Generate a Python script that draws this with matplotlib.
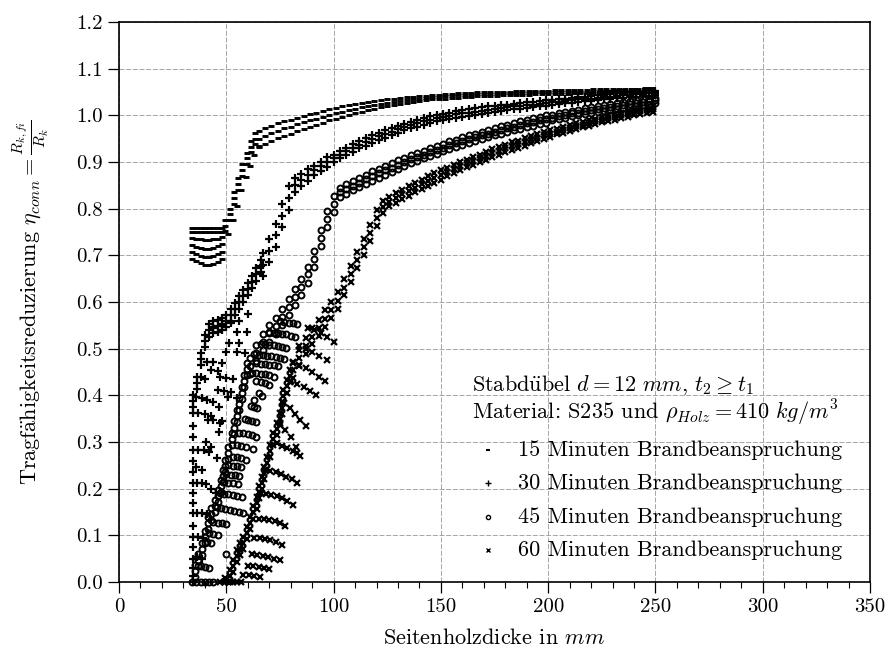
import matplotlib
matplotlib.use('Agg')
import matplotlib.pyplot as plt
from matplotlib.ticker import MultipleLocator, FormatStrFormatter

plt.rcParams['font.family'] = 'serif'
plt.rcParams['font.serif'] = ['cmr10']
plt.rcParams['mathtext.fontset'] = 'cm'
plt.rcParams['axes.unicode_minus'] = False

# ---------------- 15 Minuten ----------------
# group at the smallest side thickness
x15_low = [34, 36, 38, 40, 42, 44, 46, 48]
y15_low = [
    [0.758, 0.758, 0.758, 0.758, 0.758, 0.758, 0.758, 0.758],
    [0.750, 0.750, 0.750, 0.750, 0.750, 0.750, 0.750, 0.750],
    [0.738, 0.736, 0.734, 0.733, 0.733, 0.734, 0.736, 0.740],
    [0.722, 0.718, 0.716, 0.714, 0.714, 0.716, 0.719, 0.724],
    [0.708, 0.703, 0.699, 0.697, 0.697, 0.699, 0.703, 0.708],
    [0.692, 0.687, 0.683, 0.680, 0.680, 0.682, 0.686, 0.692],
]
# steep part
x15_rise = [49.5, 51.5, 53.5, 55.5, 57.5, 59.5, 61.5, 63.5]
y15_rise = [
    [0.775, 0.800, 0.835, 0.865, 0.895, 0.920, 0.945, 0.962],
    [0.763, 0.788, 0.823, 0.853, 0.883, 0.908, 0.933, 0.950],
    [0.752, 0.776, 0.811, 0.841, 0.871, 0.896, 0.921, 0.938],
]
x15_single = [51, 53, 55, 57, 59, 61, 63, 65]
y15_single = [0.745, 0.775, 0.805, 0.840, 0.868, 0.892, 0.915, 0.935]
# upper band
x15_band = list(range(65, 249, 3))
y15_band = [
    [0.967, 0.973, 0.978, 0.983, 0.987, 0.991, 0.995, 0.999, 1.002, 1.006,
     1.009, 1.013, 1.016, 1.019, 1.022, 1.024, 1.027, 1.029, 1.031, 1.033,
     1.034, 1.036, 1.037, 1.039, 1.040, 1.041, 1.042, 1.043, 1.044, 1.045,
     1.046, 1.047, 1.047, 1.048, 1.049, 1.049, 1.050, 1.050, 1.051, 1.051,
     1.052, 1.052, 1.052, 1.053, 1.053, 1.053, 1.054, 1.054, 1.054, 1.055,
     1.055, 1.055, 1.056, 1.056, 1.056, 1.056, 1.057, 1.057, 1.057, 1.057,
     1.058, 1.058],
    [0.950, 0.956, 0.962, 0.967, 0.972, 0.976, 0.981, 0.985, 0.989, 0.993,
     0.997, 1.001, 1.005, 1.008, 1.012, 1.014, 1.018, 1.020, 1.023, 1.025,
     1.027, 1.029, 1.031, 1.033, 1.035, 1.036, 1.038, 1.039, 1.040, 1.041,
     1.042, 1.043, 1.043, 1.044, 1.045, 1.045, 1.046, 1.046, 1.047, 1.047,
     1.048, 1.048, 1.048, 1.049, 1.049, 1.049, 1.050, 1.050, 1.050, 1.051,
     1.051, 1.051, 1.052, 1.052, 1.052, 1.052, 1.053, 1.053, 1.053, 1.053,
     1.054, 1.054],
    [0.932, 0.939, 0.945, 0.951, 0.956, 0.961, 0.966, 0.971, 0.975, 0.980,
     0.984, 0.989, 0.993, 0.997, 1.001, 1.004, 1.008, 1.011, 1.014, 1.017,
     1.019, 1.022, 1.024, 1.027, 1.029, 1.031, 1.033, 1.034, 1.035, 1.036,
     1.037, 1.038, 1.039, 1.040, 1.041, 1.041, 1.042, 1.042, 1.043, 1.043,
     1.044, 1.044, 1.044, 1.045, 1.045, 1.045, 1.046, 1.046, 1.046, 1.047,
     1.047, 1.047, 1.048, 1.048, 1.048, 1.048, 1.049, 1.049, 1.049, 1.049,
     1.050, 1.050],
]

# ---------------- 30 Minuten ----------------
x30_col = [34.5] * 17
y30_col = [0.0, 0.012, 0.03, 0.05, 0.075, 0.097, 0.12, 0.148, 0.17, 0.19,
           0.212, 0.235, 0.26, 0.283, 0.31, 0.335, 0.362]
x30_step = [34.5, 36.5, 38, 40, 42, 44, 46, 48, 50, 52, 54, 56, 58, 60, 62, 64, 66]
y30_step = [
    [0.400, 0.440, 0.490, 0.530, 0.552, 0.560, 0.562, 0.565, 0.572, 0.585,
     0.598, 0.612, 0.626, 0.640, 0.656, 0.672, 0.690],
    [0.387, 0.427, 0.477, 0.517, 0.539, 0.547, 0.549, 0.552, 0.559, 0.572,
     0.585, 0.599, 0.613, 0.627, 0.643, 0.659, 0.677],
    [0.374, 0.414, 0.464, 0.504, 0.526, 0.534, 0.536, 0.539, 0.546, 0.559,
     0.572, 0.586, 0.600, 0.614, 0.630, 0.646, 0.664],
]
p30_scatter = [
    (36, .397), (38.5, .395), (41, .39), (44, .385), (46.5, .375),
    (37, .362), (40, .36), (43, .355), (47, .341),
    (46.4, .322), (40.6, .30), (43, .29),
    (37, .283), (39.5, .282), (42, .278), (45.7, .265),
    (36, .247), (38.5, .24),
    (36.5, .212), (38.5, .212), (40.5, .21), (43, .2), (45, .19),
    (36.5, .148), (38.5, .148), (41, .145),
    (37, .097), (39, .095), (36.5, .054), (38.5, .05),
    (54.8, .536), (59.5, .536), (51.3, .512), (55.9, .512),
    (49.7, .493), (55, .493), (58.5, .49),
    (41, .471), (44, .471), (48, .47), (43, .454), (46, .452),
    (47, .44), (50, .438), (53, .435),
    (46, .411), (49, .41), (52, .408), (51, .396), (55, .394),
    (41.5, .347), (44, .347), (48, .345),
    (38, .44), (40, .435), (44, .545), (48, .55), (52, .555), (56, .56), (60, .575),
]
x30_band = list(range(67, 251, 3))
y30_band = [
    [0.705, 0.735, 0.768, 0.810, 0.848, 0.865, 0.875, 0.884, 0.892, 0.901,
     0.910, 0.916, 0.924, 0.931, 0.938, 0.945, 0.951, 0.957, 0.963, 0.968,
     0.973, 0.977, 0.982, 0.986, 0.990, 0.994, 0.998, 1.001, 1.003, 1.006,
     1.009, 1.011, 1.013, 1.015, 1.017, 1.019, 1.021, 1.023, 1.023, 1.025,
     1.026, 1.028, 1.029, 1.031, 1.032, 1.033, 1.034, 1.036, 1.037, 1.039,
     1.040, 1.041, 1.043, 1.044, 1.045, 1.047, 1.048, 1.049, 1.050, 1.051,
     1.052, 1.053],
    [0.680, 0.710, 0.743, 0.785, 0.823, 0.850, 0.862, 0.872, 0.882, 0.891,
     0.900, 0.908, 0.916, 0.923, 0.930, 0.937, 0.943, 0.949, 0.955, 0.960,
     0.965, 0.970, 0.975, 0.979, 0.983, 0.987, 0.991, 0.994, 0.996, 0.999,
     1.002, 1.004, 1.006, 1.008, 1.010, 1.012, 1.014, 1.016, 1.017, 1.019,
     1.020, 1.022, 1.023, 1.025, 1.026, 1.028, 1.029, 1.031, 1.032, 1.034,
     1.035, 1.036, 1.038, 1.039, 1.040, 1.042, 1.043, 1.044, 1.045, 1.046,
     1.047, 1.048],
    [0.655, 0.685, 0.718, 0.760, 0.798, 0.835, 0.849, 0.860, 0.872, 0.881,
     0.890, 0.900, 0.908, 0.915, 0.922, 0.929, 0.935, 0.941, 0.947, 0.952,
     0.957, 0.963, 0.968, 0.972, 0.976, 0.980, 0.984, 0.987, 0.989, 0.992,
     0.995, 0.997, 0.999, 1.001, 1.003, 1.005, 1.007, 1.009, 1.011, 1.013,
     1.014, 1.016, 1.017, 1.019, 1.020, 1.023, 1.024, 1.026, 1.027, 1.029,
     1.030, 1.031, 1.033, 1.034, 1.035, 1.037, 1.038, 1.039, 1.040, 1.041,
     1.042, 1.043],
]

# ---------------- 45 Minuten ----------------
x45_step = [35.4, 37, 38.5, 40, 41.5, 43, 44.7, 46, 47.3, 48.5,
            49.6, 51, 52.5, 53.7, 54.9, 56, 57.2, 58.4, 59.5]
y45_step = [
    [0.036, 0.060, 0.083, 0.110, 0.140, 0.158, 0.176, 0.198, 0.219, 0.240,
     0.261, 0.290, 0.319, 0.344, 0.369, 0.394, 0.418, 0.444, 0.469],
    [0.023, 0.047, 0.070, 0.097, 0.127, 0.145, 0.163, 0.185, 0.206, 0.227,
     0.248, 0.277, 0.306, 0.331, 0.356, 0.381, 0.405, 0.431, 0.456],
    [0.010, 0.034, 0.057, 0.084, 0.114, 0.132, 0.150, 0.172, 0.193, 0.214,
     0.235, 0.264, 0.293, 0.318, 0.343, 0.368, 0.392, 0.418, 0.443],
]
x45_zero = [34, 36, 38, 40, 42, 44]
y45_zero = [0.0, 0.0, 0.0, 0.0, 0.0, 0.0]
p45_scatter = [
    (75, .56), (77, .558), (79, .556), (81, .555), (83, .553),
    (70, .535), (72, .534), (74, .533), (76, .532), (78, .531), (80, .528), (82, .525),
    (66, .51), (68, .509), (70, .508), (72, .507), (74, .506), (76, .504), (78, .502),
    (63, .488), (65, .487), (67, .486), (69, .485), (71, .484), (73, .482), (75, .48), (77, .478),
    (64, .469), (66, .468), (68, .467), (70, .466), (72, .464), (74, .462),
    (62, .448), (64, .447), (66, .446), (68, .445), (70, .443), (72, .44),
    (64, .43), (66, .428), (68, .426), (70, .423),
    (65, .405), (66.5, .398), (63, .39),
    (61.5, .378), (63, .375), (64.5, .372),
    (58.5, .35), (60, .348), (62, .346), (64, .342),
    (56, .32), (58, .319), (60, .318), (62, .315), (64, .31),
    (55, .293), (57, .292), (59, .29), (62.6, .285),
    (53, .268), (55, .267), (57, .265), (59, .262),
    (51, .25), (53, .249), (55, .248), (57, .246),
    (50, .232), (52, .23), (54, .229), (56, .227),
    (49, .214), (51, .213), (53, .212), (55.5, .21),
    (47, .19), (49, .189), (51, .188), (53, .187), (55, .185), (57.5, .183),
    (45.5, .16), (47.5, .158), (49.5, .156), (51.5, .154), (53.5, .152), (56, .15), (58, .148),
    (44, .128), (46, .127), (48, .126), (50, .124),
    (42, .104), (44, .102), (46, .1), (41, .085), (43, .083),
    (50, .06), (38, .035), (40, .032), (42, .03),
]
x45_band = list(range(61, 251, 3))
y45_band = [
    [0.480, 0.508, 0.532, 0.550, 0.566, 0.585, 0.607, 0.628, 0.650, 0.676,
     0.710, 0.754, 0.795, 0.828, 0.845, 0.852, 0.859, 0.866, 0.873, 0.880,
     0.886, 0.892, 0.898, 0.904, 0.908, 0.914, 0.919, 0.924, 0.929, 0.934,
     0.939, 0.944, 0.948, 0.953, 0.957, 0.961, 0.965, 0.969, 0.973, 0.977,
     0.980, 0.984, 0.987, 0.991, 0.994, 0.997, 1.000, 1.001, 1.004, 1.007,
     1.010, 1.012, 1.015, 1.017, 1.020, 1.022, 1.024, 1.026, 1.028, 1.030,
     1.032, 1.034, 1.036, 1.038],
    [0.463, 0.491, 0.515, 0.533, 0.549, 0.568, 0.590, 0.611, 0.633, 0.659,
     0.693, 0.737, 0.778, 0.811, 0.835, 0.842, 0.849, 0.856, 0.863, 0.870,
     0.876, 0.882, 0.888, 0.894, 0.900, 0.906, 0.911, 0.916, 0.921, 0.926,
     0.931, 0.936, 0.940, 0.945, 0.949, 0.953, 0.957, 0.961, 0.965, 0.969,
     0.972, 0.976, 0.979, 0.983, 0.986, 0.989, 0.992, 0.995, 0.998, 1.001,
     1.004, 1.006, 1.009, 1.011, 1.014, 1.016, 1.018, 1.020, 1.022, 1.024,
     1.026, 1.028, 1.030, 1.032],
    [0.445, 0.473, 0.497, 0.515, 0.531, 0.550, 0.572, 0.593, 0.615, 0.641,
     0.675, 0.719, 0.760, 0.793, 0.825, 0.832, 0.839, 0.846, 0.853, 0.860,
     0.866, 0.872, 0.878, 0.884, 0.892, 0.898, 0.903, 0.908, 0.913, 0.918,
     0.923, 0.928, 0.932, 0.937, 0.941, 0.945, 0.949, 0.953, 0.957, 0.961,
     0.964, 0.968, 0.971, 0.975, 0.978, 0.981, 0.984, 0.989, 0.992, 0.995,
     0.998, 1.000, 1.003, 1.005, 1.008, 1.010, 1.012, 1.014, 1.016, 1.018,
     1.020, 1.022, 1.024, 1.026],
]

# ---------------- 60 Minuten ----------------
x60_step = [49.5, 51.7, 53.2, 54.8, 56.4, 58, 59.5, 61, 62.6, 64.2, 65.3,
            66.5, 67.7, 68.8, 70.3, 71.8, 73.4, 75, 75.8, 76.5, 78.1, 79.7]
y60_step = [
    [0.008, 0.026, 0.048, 0.069, 0.083, 0.097, 0.118, 0.140, 0.162, 0.183, 0.205,
     0.226, 0.247, 0.268, 0.293, 0.319, 0.340, 0.362, 0.386, 0.411, 0.432, 0.454],
    [0.000, 0.013, 0.035, 0.056, 0.070, 0.084, 0.105, 0.127, 0.149, 0.170, 0.192,
     0.213, 0.234, 0.255, 0.280, 0.306, 0.327, 0.349, 0.373, 0.398, 0.419, 0.441],
    [0.000, 0.000, 0.022, 0.043, 0.057, 0.071, 0.092, 0.114, 0.136, 0.157, 0.179,
     0.200, 0.221, 0.242, 0.267, 0.293, 0.314, 0.336, 0.360, 0.385, 0.406, 0.428],
]
x60_zero = [47, 49, 51, 53, 55, 57]
y60_zero = [0.0, 0.0, 0.0, 0.0, 0.0, 0.0]
p60_scatter = [
    (73.5, .297), (76, .292), (78.5, .287), (81, .281), (83, .276),
    (68, .24), (70.5, .238), (73, .235), (75.5, .231), (78, .226), (80.5, .22), (83, .212),
    (66, .19), (68.5, .189), (71, .187), (73.5, .184), (76, .18), (78.5, .174), (81, .165),
    (65, .135), (67.5, .134), (70, .133), (72.5, .13), (75, .126), (77.5, .12),
    (63, .095), (65.5, .094), (68, .092), (70.5, .09), (73, .086), (76, .08),
    (62, .06), (64.5, .058), (67, .056), (69.5, .053), (72, .05), (75, .047),
    (60, .035), (62.5, .034), (65, .032), (67.5, .03), (70, .027),
    (58, .015), (60.5, .014), (63, .012), (65.5, .01),
    (75, .34), (77.5, .325), (80, .31), (82.5, .29), (84.5, .27),
    (77, .383), (79.5, .372), (82, .36), (84.5, .348), (87, .335),
    (80, .43), (83, .425), (86, .418), (89, .41), (92, .4),
    (81, .47), (84, .465), (87, .458), (90, .45), (93, .44), (96, .43),
    (84, .505), (87, .5), (90, .493), (93, .485), (96.8, .476),
    (88, .545), (91, .54), (94, .533), (97, .525), (100, .515),
]
x60_band = list(range(81, 250, 3))
y60_band = [
    [0.472, 0.498, 0.523, 0.544, 0.562, 0.582, 0.601, 0.621, 0.649, 0.678,
     0.707, 0.736, 0.766, 0.798, 0.816, 0.825, 0.833, 0.841, 0.848, 0.855,
     0.862, 0.869, 0.876, 0.882, 0.887, 0.893, 0.899, 0.905, 0.910, 0.916,
     0.921, 0.927, 0.932, 0.937, 0.942, 0.946, 0.951, 0.956, 0.960, 0.965,
     0.969, 0.971, 0.975, 0.979, 0.983, 0.986, 0.990, 0.993, 0.997, 1.000,
     1.003, 1.006, 1.009, 1.012, 1.015, 1.017, 1.020],
    [0.454, 0.480, 0.505, 0.526, 0.544, 0.564, 0.583, 0.603, 0.631, 0.660,
     0.689, 0.718, 0.748, 0.780, 0.803, 0.815, 0.823, 0.831, 0.838, 0.845,
     0.852, 0.859, 0.866, 0.872, 0.879, 0.885, 0.891, 0.897, 0.902, 0.908,
     0.913, 0.919, 0.924, 0.929, 0.934, 0.938, 0.943, 0.948, 0.952, 0.957,
     0.961, 0.965, 0.969, 0.973, 0.977, 0.980, 0.984, 0.987, 0.991, 0.994,
     0.997, 1.000, 1.003, 1.006, 1.009, 1.011, 1.014],
    [0.437, 0.463, 0.488, 0.509, 0.527, 0.547, 0.566, 0.586, 0.614, 0.643,
     0.672, 0.701, 0.731, 0.763, 0.791, 0.805, 0.813, 0.821, 0.828, 0.835,
     0.842, 0.849, 0.856, 0.862, 0.871, 0.877, 0.883, 0.889, 0.894, 0.900,
     0.905, 0.911, 0.916, 0.921, 0.926, 0.930, 0.935, 0.940, 0.944, 0.949,
     0.953, 0.959, 0.963, 0.967, 0.971, 0.974, 0.978, 0.981, 0.985, 0.988,
     0.991, 0.994, 0.997, 1.000, 1.003, 1.005, 1.008],
]

legend_labels = ['15 Minuten Brandbeanspruchung', '30 Minuten Brandbeanspruchung',
                 '45 Minuten Brandbeanspruchung', '60 Minuten Brandbeanspruchung']

st15 = dict(marker='_', ms=3.8, mew=2.1)
st30 = dict(marker='+', ms=6.2, mew=1.6)
st45 = dict(marker='o', ms=4.3, mew=1.4, mfc='none')
st60 = dict(marker='x', ms=5.0, mew=1.6)


def dots(ax, x, y, st):
    ax.plot(x, y, ls='none', color='k', clip_on=False, **st)


fig = plt.figure(figsize=(8.87, 6.6), dpi=100)
ax = fig.add_axes([0.1342, 0.1182, 0.8467, 0.8485])

# 15 min
for row in y15_low:
    dots(ax, x15_low, row, st15)
for row in y15_rise:
    dots(ax, x15_rise, row, st15)
dots(ax, x15_single, y15_single, st15)
for row in y15_band:
    dots(ax, x15_band, row, st15)

# 30 min
dots(ax, x30_col, y30_col, st30)
for row in y30_step:
    dots(ax, x30_step, row, st30)
dots(ax, [p[0] for p in p30_scatter], [p[1] for p in p30_scatter], st30)
for row in y30_band:
    dots(ax, x30_band, row, st30)

# 45 min
for row in y45_step:
    dots(ax, x45_step, row, st45)
dots(ax, x45_zero, y45_zero, st45)
dots(ax, [p[0] for p in p45_scatter], [p[1] for p in p45_scatter], st45)
for row in y45_band:
    dots(ax, x45_band, row, st45)

# 60 min
for row in y60_step:
    dots(ax, x60_step, row, st60)
dots(ax, x60_zero, y60_zero, st60)
dots(ax, [p[0] for p in p60_scatter], [p[1] for p in p60_scatter], st60)
for row in y60_band:
    dots(ax, x60_band, row, st60)

ax.set_xlim(0, 350)
ax.set_ylim(0, 1.2)
ax.xaxis.set_major_locator(MultipleLocator(50))
ax.xaxis.set_minor_locator(MultipleLocator(10))
ax.yaxis.set_major_locator(MultipleLocator(0.1))
ax.yaxis.set_major_formatter(FormatStrFormatter('%.1f'))
ax.tick_params(which='major', length=8, width=0.9, labelsize=15, direction='out')
ax.tick_params(which='minor', length=4, width=0.8, direction='out')
ax.tick_params(top=False, right=False)
for sp in ax.spines.values():
    sp.set_linewidth(1.2)
ax.set_axisbelow(True)
ax.grid(True, which='major', color='0.6', ls=(0, (6, 2)), lw=0.6)

ax.set_xlabel(r'Seitenholzdicke in $mm$', fontsize=16)
ax.xaxis.set_label_coords(0.5, -0.083)
ax.set_ylabel(r'Tragf$\ddot{\mathrm{a}}$higkeitsreduzierung $\eta_{conn} = \frac{R_{k,fi}}{R_k}$',
              fontsize=16)
ax.yaxis.set_label_coords(-0.09, 0.5)

# description and legend
tr = ax.transAxes
ax.text(0.470, 0.352, r'Stabd$\ddot{\mathrm{u}}$bel $d = 12\ mm$, $t_2 \geq t_1$',
        transform=tr, fontsize=16, va='center')
ax.text(0.470, 0.302, r'Material: S235 und $\rho_{Holz} = 410\ kg/m^3$',
        transform=tr, fontsize=16, va='center')
leg_styles = [dict(marker='_', ms=2.8, mew=1.5), dict(marker='+', ms=5, mew=1.0),
              dict(marker='o', ms=3, mew=1.0, mfc='none'), dict(marker='x', ms=3, mew=1.0)]
leg_y = [0.236, 0.177, 0.116, 0.057]
for st, lab, yy in zip(leg_styles, legend_labels, leg_y):
    ax.plot([0.491], [yy], ls='none', color='k', transform=tr, **st)
    ax.text(0.531, yy, lab, transform=tr, fontsize=16, va='center')

fig.savefig('out.png', dpi=100)
